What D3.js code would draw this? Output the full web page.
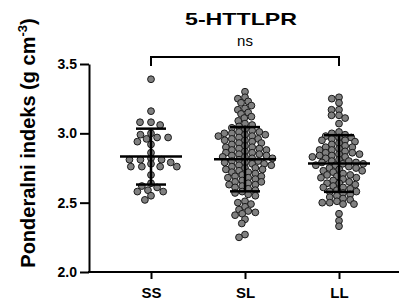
<!DOCTYPE html>
<html>
<head>
<meta charset="utf-8">
<script src="https://cdn.jsdelivr.net/npm/d3@7"></script>
<style>
    body { margin: 0; background: #fff; }
    svg { display: block; font-family: "Liberation Sans", Arial, sans-serif; }
</style>
</head>
<body>
<svg width="399" height="305"></svg>
<script>
var categories = ['SS', 'SL', 'LL'];

var ssValues = [3.39, 3.16, 3.08, 3.06, 3.08, 2.97, 2.99, 2.97, 3.00, 2.92, 2.94, 2.96,
    2.86, 2.78, 2.81, 2.76, 2.81, 2.76, 2.79, 2.82, 2.76, 2.81, 2.76, 2.70,
    2.62, 2.64, 2.61, 2.59, 2.58, 2.58, 2.55, 2.52];

var slValues = [3.30, 3.26, 3.25, 3.23, 3.22, 3.20, 3.18, 3.17, 3.15, 3.14, 3.12, 3.11, 3.09,
    3.07, 3.06, 3.05, 3.04, 3.03, 3.02, 3.01, 3.01, 3.00, 3.00, 2.99, 2.99, 2.98, 2.98,
    2.97, 2.96, 2.96, 2.95, 2.95, 2.94, 2.93, 2.93, 2.92, 2.91, 2.90, 2.90, 2.89, 2.89,
    2.88, 2.88, 2.87, 2.86, 2.86, 2.85, 2.85, 2.84, 2.84, 2.83, 2.83, 2.82, 2.82,
    2.81, 2.80, 2.80, 2.79, 2.79, 2.78, 2.78, 2.77, 2.77, 2.76, 2.75, 2.75, 2.74, 2.74,
    2.73, 2.72, 2.72, 2.71, 2.70, 2.69, 2.69, 2.68, 2.68, 2.67, 2.66, 2.65, 2.65,
    2.64, 2.63, 2.63, 2.62, 2.61, 2.60, 2.59, 2.58, 2.57, 2.56, 2.55, 2.51, 2.50, 2.49,
    2.47, 2.45, 2.44, 2.43, 2.42, 2.41, 2.38, 2.35, 2.27, 2.25];

var llValues = [3.26, 3.25, 3.22, 3.17, 3.17, 3.13, 3.13, 3.11, 3.07, 3.01, 3.00, 2.99,
    2.98, 2.97, 2.97, 2.96, 2.95, 2.95, 2.94, 2.93, 2.92, 2.91, 2.90, 2.90, 2.89, 2.88, 2.88,
    2.87, 2.86, 2.86, 2.85, 2.85, 2.84, 2.84, 2.83, 2.83, 2.82, 2.81, 2.80, 2.80, 2.79, 2.79,
    2.78, 2.78, 2.77, 2.77, 2.76, 2.75, 2.75, 2.74, 2.73, 2.73, 2.72, 2.71, 2.70, 2.70,
    2.69, 2.68, 2.68, 2.67, 2.66, 2.65, 2.64, 2.64, 2.63, 2.62, 2.61, 2.61, 2.60, 2.59,
    2.58, 2.58, 2.57, 2.56, 2.55, 2.54, 2.53, 2.52, 2.51, 2.50, 2.50, 2.49, 2.49,
    2.42, 2.37, 2.33];

var yTicks = [2.0, 2.5, 3.0, 3.5];
var chartTitle = '5-HTTLPR';
var sigLabel = 'ns';

// horizontal / vertical spacing of the swarm per group
var groups = [
    { name: categories[0], values: ssValues, sx: 11, sy: 5 },
    { name: categories[1], values: slValues, sx: 7.5, sy: 4.6 },
    { name: categories[2], values: llValues, sx: 7.5, sy: 4.8 }
];

var svg = d3.select('svg');

var x = d3.scalePoint().domain(categories).range([151, 339]);
var y = d3.scaleLinear().domain([2, 3.5]).range([272, 64]);

// y axis
var yAxis = svg.append('g')
    .attr('transform', 'translate(89,0)')
    .call(d3.axisLeft(y).tickValues(yTicks).tickFormat(d3.format('.1f')).tickSize(9).tickPadding(3).tickSizeOuter(0));
yAxis.select('.domain').attr('stroke-width', 2);
yAxis.selectAll('.tick line').attr('stroke-width', 2);
yAxis.selectAll('.tick text')
    .attr('font-size', 14).attr('font-weight', 'bold').attr('font-family', '"Liberation Sans", Arial, sans-serif');

// x axis
var xAxis = svg.append('g')
    .attr('transform', 'translate(0,272)')
    .call(d3.axisBottom(x).tickSize(7).tickPadding(8));
xAxis.select('.domain').remove();
xAxis.append('line')
    .attr('x1', 88).attr('x2', 399)
    .attr('stroke', '#000').attr('stroke-width', 2);
xAxis.selectAll('.tick line').attr('stroke-width', 2);
xAxis.selectAll('.tick text')
    .attr('font-size', 15).attr('font-weight', 'bold').attr('font-family', '"Liberation Sans", Arial, sans-serif');

// beeswarm: each point goes as close to the center as it can
function swarm(values, cx, sx, sy) {
    var placed = [];
    values.slice().sort(function (a, b) { return b - a; }).forEach(function (v) {
        var py = y(v);
        var blocks = [];
        placed.forEach(function (p) {
            var dy = Math.abs(p.y - py);
            if (dy < sy) {
                var h = sx * Math.sqrt(1 - (dy / sy) * (dy / sy));
                blocks.push([p.dx - h, p.dx + h]);
            }
        });
        var cands = [0];
        blocks.forEach(function (b) { cands.push(b[0], b[1]); });
        cands.sort(function (a, b) { return Math.abs(a) - Math.abs(b) || a - b; });
        var dx = cands.find(function (c) {
            return blocks.every(function (b) { return c <= b[0] + 1e-6 || c >= b[1] - 1e-6; });
        });
        placed.push({ v: v, y: py, dx: dx });
    });
    return placed.map(function (p) { return { value: p.v, x: cx + p.dx, y: p.y }; });
}

groups.forEach(function (g) {
    var cx = x(g.name);
    var pts = swarm(g.values, cx, g.sx, g.sy);

    svg.append('g').selectAll('circle')
        .data(pts)
        .enter()
        .append('circle')
        .attr('cx', function (d) { return d.x; })
        .attr('cy', function (d) { return d.y; })
        .attr('r', 3.4)
        .attr('fill', '#808080')
        .attr('stroke', '#1a1a1a')
        .attr('stroke-width', 1);

    var mean = d3.mean(g.values);
    var sd = d3.deviation(g.values);
    var bars = svg.append('g').attr('stroke', '#000').attr('stroke-width', 2.5);
    bars.append('line')
        .attr('x1', cx - 31).attr('x2', cx + 31)
        .attr('y1', y(mean)).attr('y2', y(mean));
    bars.append('line')
        .attr('x1', cx).attr('x2', cx)
        .attr('y1', y(mean + sd)).attr('y2', y(mean - sd));
    [mean + sd, mean - sd].forEach(function (v) {
        bars.append('line')
            .attr('x1', cx - 15).attr('x2', cx + 15)
            .attr('y1', y(v)).attr('y2', y(v));
    });
});

// significance bracket
svg.append('path')
    .attr('d', 'M' + x('SS') + ',66V57H' + x('LL') + 'V66')
    .attr('fill', 'none')
    .attr('stroke', '#000')
    .attr('stroke-width', 2);

svg.append('text')
    .attr('x', x('SL'))
    .attr('y', 46)
    .attr('text-anchor', 'middle')
    .attr('font-size', 15)
    .text(sigLabel);

svg.append('text')
    .attr('x', 241)
    .attr('y', 25)
    .attr('text-anchor', 'middle')
    .attr('font-size', 17)
    .attr('font-weight', 'bold')
    .attr('textLength', 112)
    .attr('lengthAdjust', 'spacingAndGlyphs')
    .text(chartTitle);

// y axis title with superscript
var yTitle = svg.append('text')
    .attr('transform', 'translate(35,143) rotate(-90)')
    .attr('text-anchor', 'middle')
    .attr('font-size', 20)
    .attr('font-weight', 'bold');
yTitle.append('tspan').text('Ponderalni indeks (g cm');
yTitle.append('tspan').attr('font-size', 13).attr('dy', -8).text('-3');
yTitle.append('tspan').attr('dy', 8).text(')');
</script>
</body>
</html>
